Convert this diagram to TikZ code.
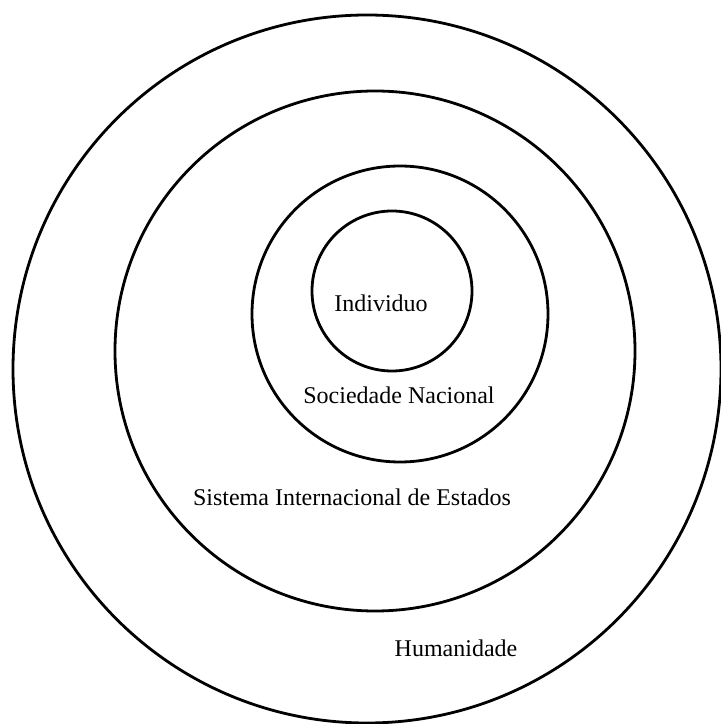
\documentclass[tikz,border=0pt]{standalone}
\usepackage{fontspec}
\setmainfont{Liberation Serif}
\usepackage{tkz-euclide}
\tikzset{ring/.style={line width=1.4pt,draw=black},
  lbl/.style={font=\fontsize{12}{14}\selectfont,inner sep=0pt}}

\begin{document}
\begin{tikzpicture}[x=0.5pt,y=0.5pt]
\useasboundingbox (0,0) rectangle (721,724);

\tkzDefPoints{367/355/O1,375/373/O2,400/410/O3,392/433/O4}

% the four rings, outer to inner
\draw[ring] (O1) circle[radius=354];
\draw[ring] (O2) circle[radius=260];
\draw[ring] (O3) circle[radius=148];
\draw[ring] (O4) circle[radius=80];

\node[lbl] (individuo) at (381,421) {Individuo};
\node[lbl] (sociedade) at (399,329) {Sociedade Nacional};
\node[lbl] (sistema) at (352,227) {Sistema Internacional de Estados};
\node[lbl] (humanidade) at (456,76) {Humanidade};

\end{tikzpicture}
\end{document}
